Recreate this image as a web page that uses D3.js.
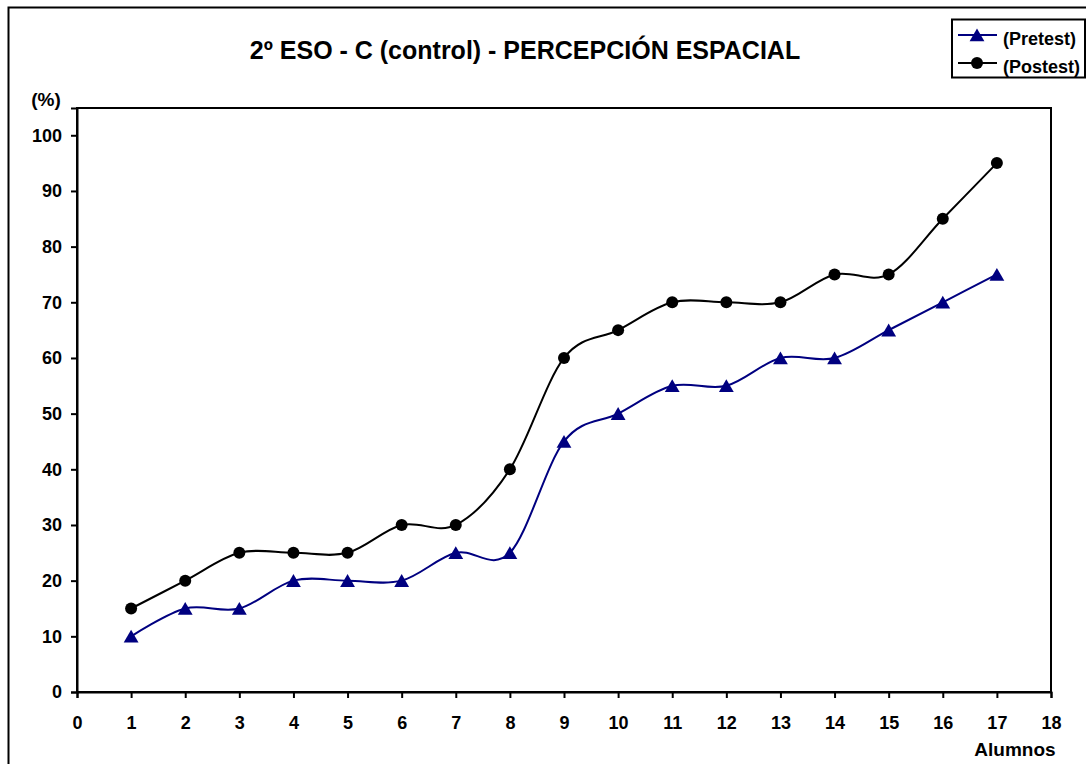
<!DOCTYPE html>
<html>
<head>
<meta charset="utf-8">
<script src="https://cdn.jsdelivr.net/npm/d3@7"></script>
<style>
  body { margin: 0; background: #fff; }
  svg text { font-family: "Liberation Sans", Arial, sans-serif; font-weight: bold; fill: #000; }
</style>
</head>
<body>
<svg id="chart" width="1086" height="764"></svg>
<script>
// Data
const alumnos = d3.range(1, 18);
const pretest = [10, 15, 15, 20, 20, 20, 25, 25, 45, 50, 55, 55, 60, 60, 65, 70, 75];
const postest = [15, 20, 25, 25, 25, 30, 30, 40, 60, 65, 70, 70, 70, 75, 75, 85, 95];
const xTicks = d3.range(0, 19);
const yTicks = d3.range(0, 101, 10);

const svg = d3.select("#chart");

// Outer frame (runs past the picture on the right / bottom)
svg.append("rect")
    .attr("x", 8.5).attr("y", 7.5)
    .attr("width", 1100).attr("height", 800)
    .attr("fill", "none").attr("stroke", "#000").attr("stroke-width", 2);

const margin = {top: 108, right: 35, bottom: 72, left: 77};
const width = 1086 - margin.left - margin.right;
const height = 764 - margin.top - margin.bottom;

const g = svg.append("g")
    .attr("transform", "translate(" + margin.left + "," + margin.top + ")");

const x = d3.scaleLinear().domain([0, 18]).range([0, width]);
const y = d3.scaleLinear().domain([0, 104.9]).range([height, 0]);

// Plot box
g.append("rect")
    .attr("width", width).attr("height", height)
    .attr("fill", "none").attr("stroke", "#000").attr("stroke-width", 2);

// Axes
const xAxis = g.append("g")
    .attr("transform", "translate(0," + height + ")")
    .call(d3.axisBottom(x).tickValues(xTicks).tickSize(6).tickPadding(18).tickFormat(d3.format("d")));
const yAxis = g.append("g")
    .call(d3.axisLeft(y).tickValues(yTicks).tickSize(6).tickPadding(9).tickFormat(d3.format("d")));

[xAxis, yAxis].forEach(a => {
    a.attr("font-size", null).attr("font-family", null);
    a.select(".domain").attr("stroke-width", 2);
    a.selectAll(".tick line").attr("stroke-width", 2);
    a.selectAll("text").style("font-size", "18px");
});

// Axis labels
svg.append("text")
    .attr("x", 46).attr("y", 106)
    .attr("text-anchor", "middle")
    .style("font-size", "19px")
    .text("(%)");

svg.append("text")
    .attr("x", 1015).attr("y", 756)
    .attr("text-anchor", "middle")
    .style("font-size", "19px")
    .text("Alumnos");

// Title
svg.append("text")
    .attr("x", 525).attr("y", 59)
    .attr("text-anchor", "middle")
    .style("font-size", "25px")
    .text("2º ESO - C (control) - PERCEPCIÓN ESPACIAL");

// Lines
const line = d3.line()
    .x((d, i) => x(alumnos[i]))
    .y(d => y(d))
    .curve(d3.curveCatmullRom.alpha(0));

const series = [
    {name: "(Pretest)", values: pretest, color: "#000080", marker: "triangle"},
    {name: "(Postest)", values: postest, color: "#000000", marker: "circle"}
];

const triangle = d3.symbol().type(d3.symbolTriangle).size(95);

function drawMarker(sel, s, cx, cy) {
    if (s.marker === "triangle") {
        sel.append("path")
            .attr("d", triangle())
            .attr("transform", "translate(" + cx + "," + (cy + 2) + ")")
            .attr("fill", s.color);
    } else {
        sel.append("circle")
            .attr("cx", cx).attr("cy", cy).attr("r", 6)
            .attr("fill", s.color);
    }
}

series.forEach(s => {
    g.append("path")
        .datum(s.values)
        .attr("fill", "none")
        .attr("stroke", s.color)
        .attr("stroke-width", 2)
        .attr("d", line);
    s.values.forEach((v, i) => drawMarker(g, s, x(alumnos[i]), y(v)));
});

// Legend
const legend = svg.append("g");
legend.append("rect")
    .attr("x", 952).attr("y", 19.5)
    .attr("width", 133).attr("height", 58)
    .attr("fill", "#fff").attr("stroke", "#000").attr("stroke-width", 2);

series.forEach((s, i) => {
    const ly = 35 + i * 28;
    legend.append("line")
        .attr("x1", 958).attr("x2", 997)
        .attr("y1", ly).attr("y2", ly)
        .attr("stroke", s.color).attr("stroke-width", 2);
    drawMarker(legend, s, 977, ly);
    legend.append("text")
        .attr("x", 1003).attr("y", ly + 10)
        .style("font-size", "18px")
        .text(s.name);
});
</script>
</body>
</html>
